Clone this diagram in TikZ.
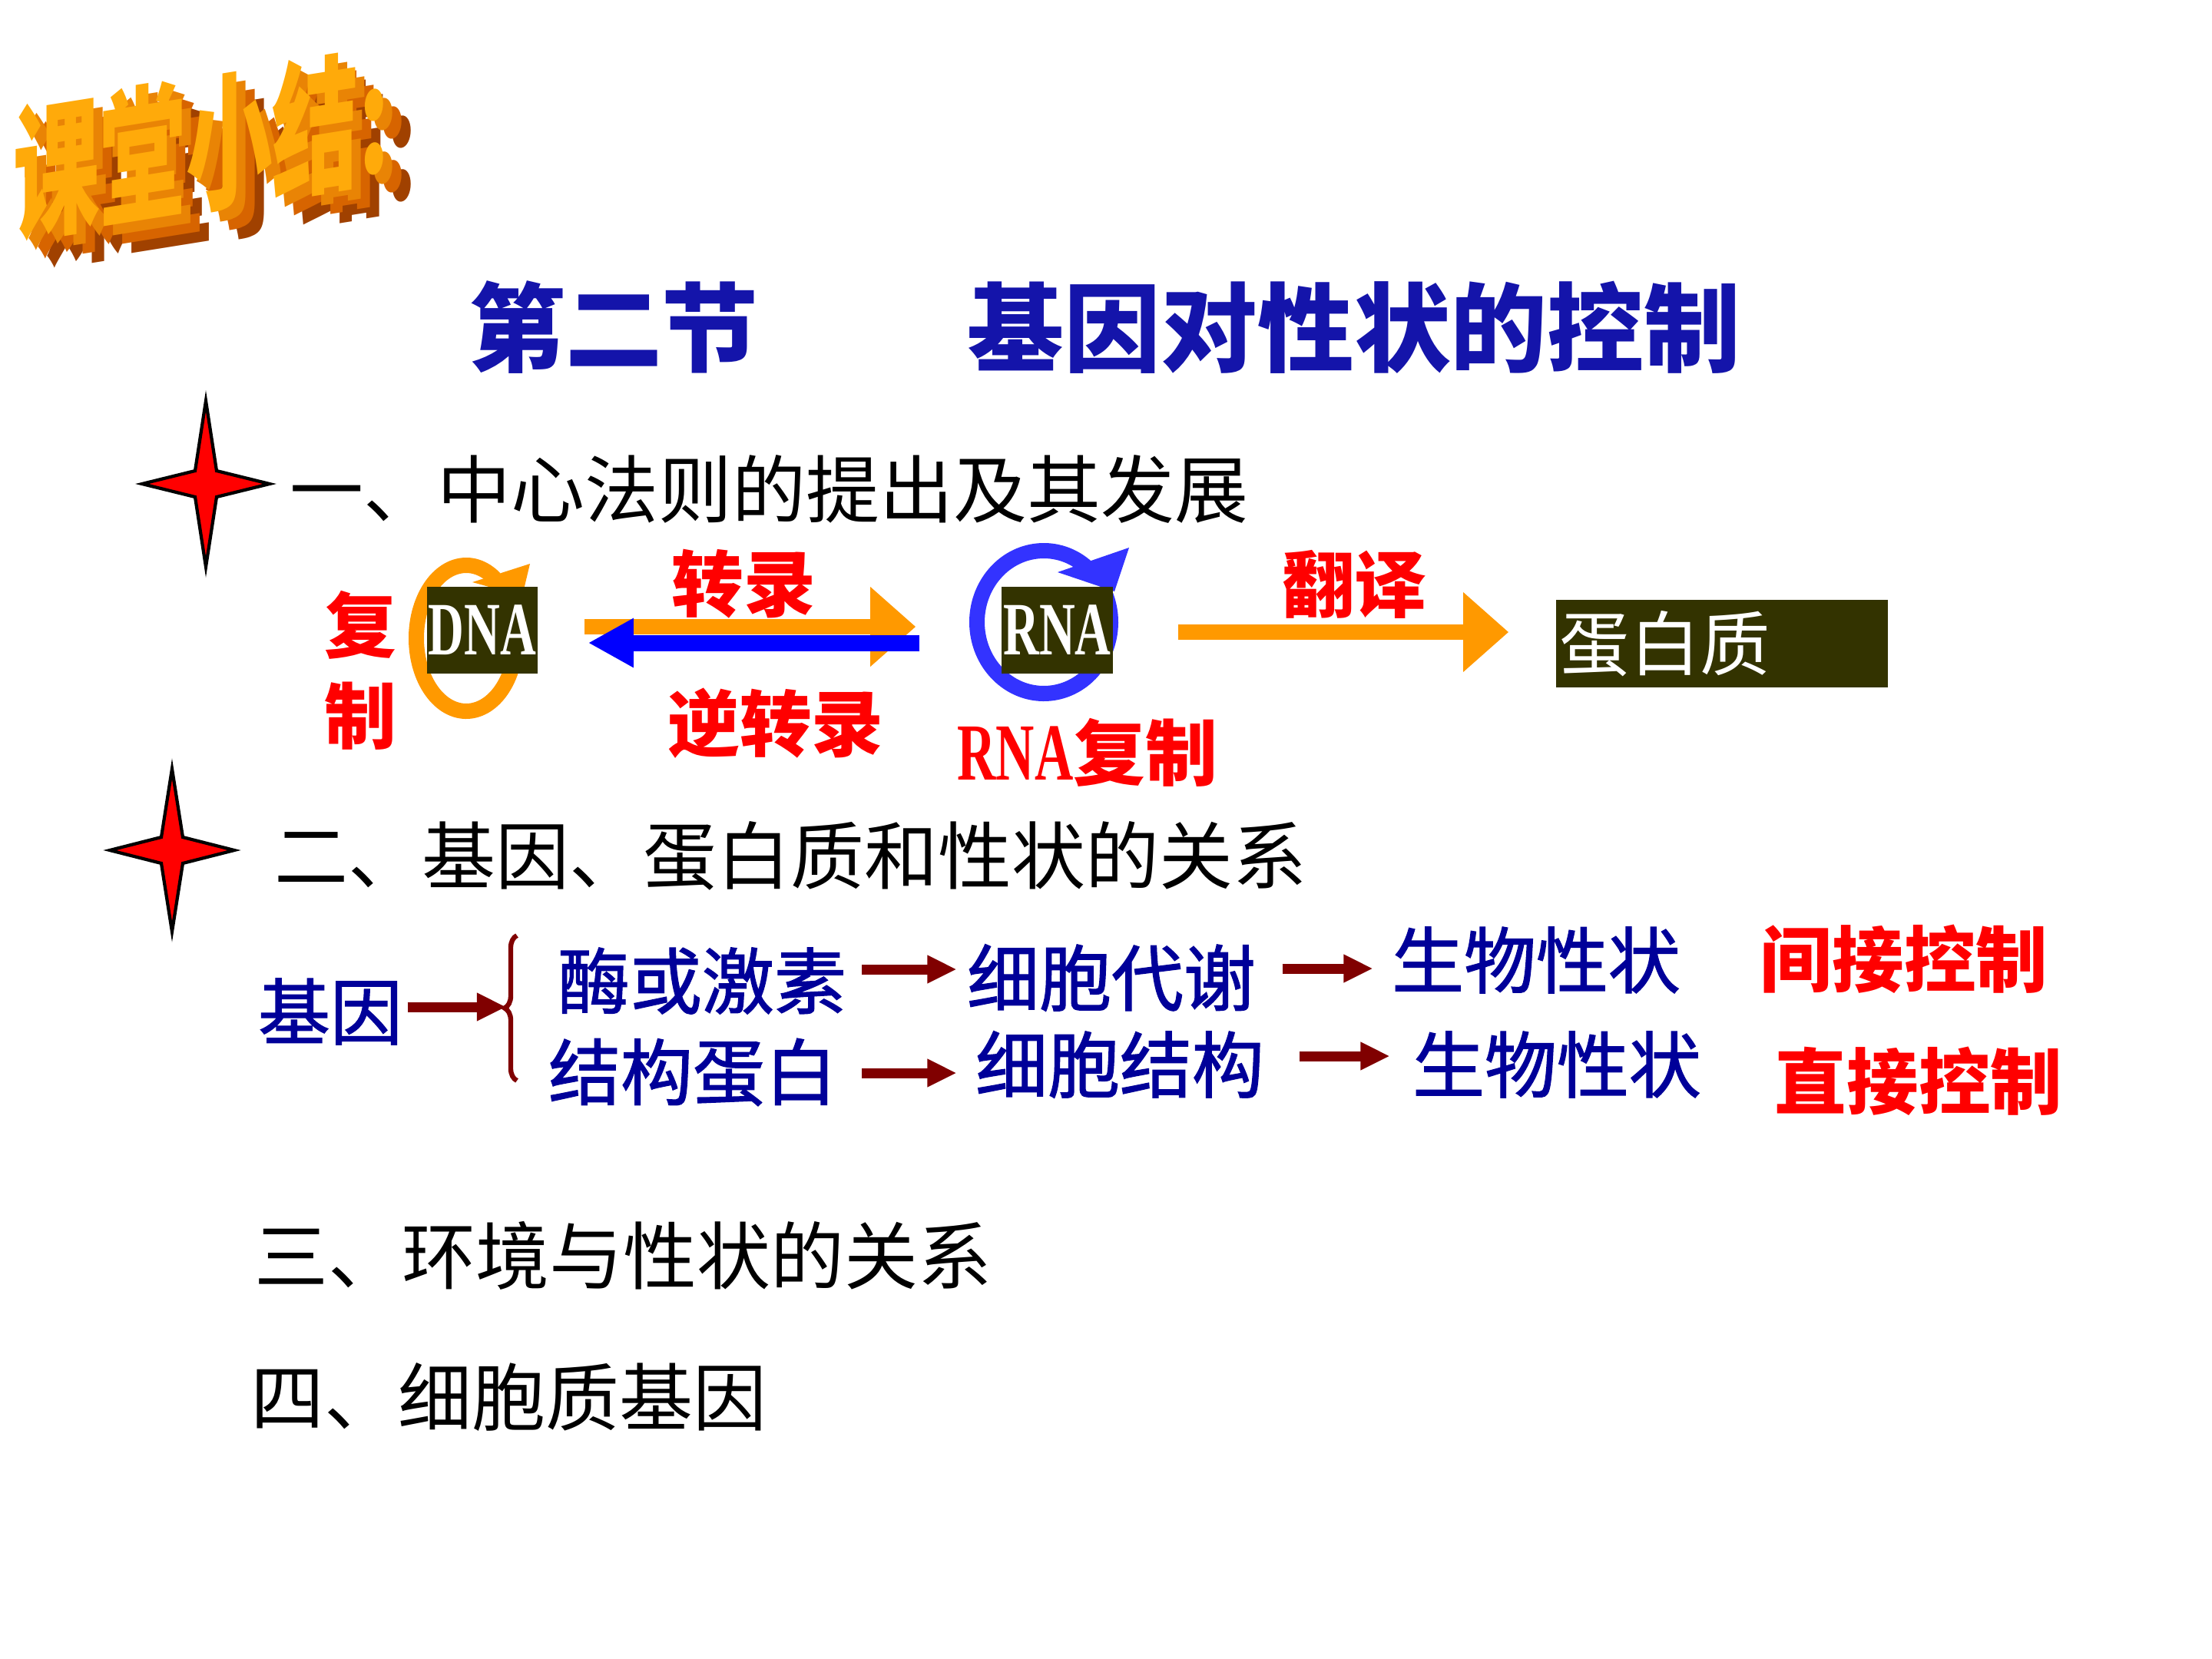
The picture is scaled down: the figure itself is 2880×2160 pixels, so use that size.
\documentclass[tikz,border=0pt]{standalone}
\usepackage{fontspec}
\newfontfamily\cjk{Noto Sans CJK SC}
\newfontfamily\cjkmid[FakeBold=1.4]{Noto Sans CJK SC}
\newfontfamily\narrowserif[FakeStretch=0.66]{Liberation Serif}
\usetikzlibrary{positioning,arrows.meta,decorations.pathreplacing,calc}

\definecolor{slidenavy}{RGB}{0,0,153}
\definecolor{titleblue}{RGB}{20,20,170}
\definecolor{labelred}{RGB}{255,0,0}
\definecolor{arrowred}{RGB}{128,0,0}
\definecolor{boxolive}{RGB}{51,51,0}
\definecolor{flowOrange}{RGB}{255,153,0}
\definecolor{flowBlue}{RGB}{0,0,255}
\definecolor{ringBlue}{RGB}{51,51,255}
\definecolor{artFront}{RGB}{255,170,10}
\definecolor{artSide}{RGB}{215,100,0}
\definecolor{artDeep}{RGB}{160,65,0}

\begin{document}
\begin{tikzpicture}[
    x=0.01cm, y=0.01cm,
    every node/.style={inner sep=0pt},
    art/.style={font=\cjk\bfseries\fontsize{32}{34}\selectfont},
    titletext/.style={font=\cjk\bfseries\fontsize{35.8}{38}\selectfont, text=titleblue},
    heading/.style={font=\cjk\fontsize{27.3}{30}\selectfont, anchor=west},
    redlab/.style={font=\cjk\bfseries\fontsize{26.7}{33.5}\selectfont, text=labelred},
    bluetext/.style={font=\cjkmid\fontsize{26.7}{30}\selectfont, text=slidenavy},
    ctrl/.style={font=\cjk\bfseries\fontsize{26.6}{30}\selectfont, text=labelred},
    molbox/.style={rectangle, fill=boxolive, text=white, minimum height=1.13cm},
    bigarrow/.style={line width=0.2cm, -{Triangle[length=0.59cm,width=1.0cm]}},
    revarrow/.style={line width=0.21cm, -{Triangle[length=0.59cm,width=0.6cm]}},
    darrow/.style={draw=arrowred, line width=0.13cm, -{Triangle[length=0.38cm,width=0.34cm]}},
    sparkle/.style={draw=black, fill=red, line width=1.2pt, line join=miter}
]
\fill[white] (0,0) rectangle (2880,-2160);
\useasboundingbox (0,0) rectangle (2880,-2160);

% word art
\begin{scope}[shift={(262,-188)}, yslant=0.16, yscale=1.7, transform shape]
\node[art, text=artDeep] (art3) at (36,-24) {课堂小结:};
\node[art, text=artSide] (art2) at (24,-16) {课堂小结:};
\node[art, text=artSide!55!artFront] (art1) at (12,-8) {课堂小结:};
\node[art, text=artFront] (art) at (0,0) {课堂小结:};
\end{scope}

% title
\node[titletext] (t1) at (799,-426) {第二节};
\node[titletext] (t2) at (1763,-426) {基因对性状的控制};

% part one
\draw[sparkle, shift={(268,-630)}] (0,108) -- (14,17) -- (83,0) -- (14,-17) -- (0,-108) -- (-14,-17) -- (-83,0) -- (-14,17) -- cycle;
\node[heading] (h1) at (377,-637) {一、中心法则的提出及其发展};

\draw[flowOrange, line width=0.2cm] (607,-831) ++(55:65 and 95) arc[start angle=55, end angle=380, x radius=65, y radius=95];
\draw[ringBlue, line width=0.2cm] (1359,-810) ++(50:87 and 93) arc[start angle=50, end angle=390, x radius=87, y radius=93];
\fill[flowOrange] (690,-734) -- (615,-758) -- (680,-776) -- cycle;
\fill[ringBlue] (1470,-713) -- (1377,-745) -- (1451,-770) -- cycle;

\node[molbox, minimum width=1.44cm, font=\narrowserif\bfseries\fontsize{27.9}{30}\selectfont] (dna) at (628,-820.5) {DNA};
\node[molbox, minimum width=1.45cm, font=\narrowserif\bfseries\fontsize{27.9}{30}\selectfont] (rna) at (1376.5,-820.5) {RNA};
\node[molbox, minimum width=4.32cm, minimum height=1.14cm, text width=4.22cm, align=left, font=\cjk\fontsize{26}{28}\selectfont] (prot) at (2242,-838) {蛋白质};

\node[redlab, align=center] (repl) at (469,-873) {复\\制};
\node[redlab] (trans) at (968,-760) {转录};
\node[redlab] (revtrans) at (1010,-942) {逆转录};
\node[redlab] (transl) at (1763,-761) {翻译};
\node[redlab] (rnarep) at (1416,-980) {{\narrowserif\fontsize{30}{33}\selectfont RNA}复制};

\draw[bigarrow, flowOrange] ($(dna.east)+(60,4.5)$) -- ($(rna.west)+(-111,4.5)$);
\draw[revarrow, flowBlue] ($(rna.west)+(-106,-16.5)$) -- ($(dna.east)+(65,-16.5)$);
\draw[bigarrow, flowOrange] ($(rna.east)+(84,-2.5)$) -- ($(prot.west)+(-61,15)$);

% part two
\draw[sparkle, shift={(224,-1107)}] (0,106) -- (14,17) -- (81,0) -- (14,-17) -- (0,-106) -- (-14,-17) -- (-81,0) -- (-14,17) -- cycle;
\node[heading] (h2) at (357,-1114) {二、基因、蛋白质和性状的关系};

\node[bluetext] (gene) at (430,-1317) {基因};
\coordinate (brtop) at (673,-1218);
\coordinate (brbot) at (673,-1407);
\coordinate (bmid) at (659,-1311);
\draw[arrowred, line width=1.8pt, decorate, decoration={brace, amplitude=0.16cm}] (brbot) -- (brtop);
\draw[darrow] ($(gene.east)+(6,6)$) -- (bmid);

\node[bluetext] (m1) at (914,-1277) {酶或激素};
\node[bluetext] (m2) at (902,-1396) {结构蛋白};
\node[bluetext] (c1) at (1447,-1273) {细胞代谢};
\node[bluetext] (c2) at (1458,-1386) {细胞结构};
\node[bluetext] (p1) at (2000,-1250) {生物性状};
\node[bluetext] (p2) at (2027,-1386) {生物性状};
\node[ctrl] (k1) at (2479,-1249) {间接控制};
\node[ctrl] (k2) at (2498,-1408) {直接控制};

\draw[darrow] ($(m1.east)+(20,15)$) -- ($(c1.west)+(-13,11)$);
\draw[darrow] ($(c1.east)+(34,12)$) -- ($(p1.west)+(-24,-11)$);
\draw[darrow] ($(m2.east)+(32,-1)$) -- ($(c2.west)+(-24,-11)$);
\draw[darrow] ($(c2.east)+(45,11)$) -- ($(p2.west)+(-29,11)$);

% parts three and four
\node[heading] (h3) at (331,-1635) {三、环境与性状的关系};
\node[heading] (h4) at (326,-1819) {四、细胞质基因};

\end{tikzpicture}
\end{document}
